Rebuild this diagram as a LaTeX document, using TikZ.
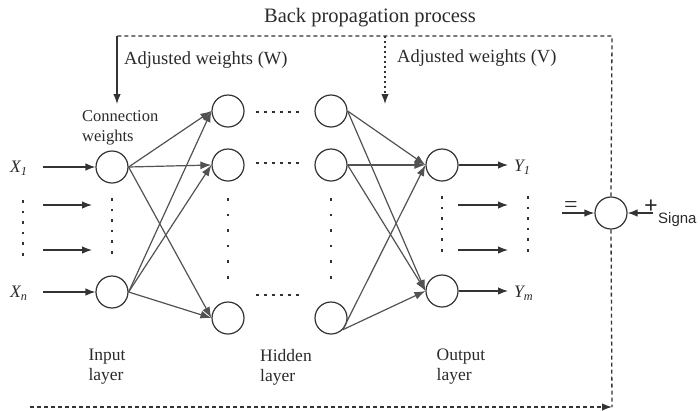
\documentclass[tikz,border=0pt]{standalone}
\usepackage{fontspec}
\setmainfont{Liberation Serif}
\newfontfamily\sigfont{Liberation Sans}
\usetikzlibrary{arrows.meta}
\definecolor{ln}{HTML}{333333}
\definecolor{tx}{HTML}{2A2A2A}
\begin{document}
\begin{tikzpicture}[x=1pt,y=-1pt,
  neuron/.style={circle,draw=ln,line width=1.2pt,minimum size=32pt,inner sep=0pt},
  conn/.style={draw=ln!85,line width=1.2pt,-{Latex[length=11pt,width=8pt]}},
  arr/.style={draw=ln,line width=1.2pt,-{Latex[length=10pt,width=7.5pt]}},
  dashline/.style={draw=ln,line width=1.3pt,dash pattern=on 4pt off 3pt},
  dotline/.style={draw=ln,line width=1.3pt,dash pattern=on 2pt off 3pt},
  vdots/.style={draw=ln,line width=2.6pt,dash pattern=on 2.6pt off 8pt},
  vdotsb/.style={draw=ln,line width=2.6pt,dash pattern=on 2.6pt off 13pt},
  hdots/.style={draw=ln,line width=2.6pt,dash pattern=on 3pt off 5pt},
  lab/.style={text=tx,font=\fontsize{17.5}{20}\selectfont,align=left,inner sep=0pt},
  every node/.append style={text=tx}]
\useasboundingbox (0,0) rectangle (700,410);

% neurons
\node[neuron] (i1) at (112,167) {};
\node[neuron] (in) at (112,292) {};
\node[neuron] (h1a) at (228,111) {};
\node[neuron] (h1b) at (228,165) {};
\node[neuron] (h1c) at (228,318) {};
\node[neuron] (h2a) at (331,111) {};
\node[neuron] (h2b) at (331,165) {};
\node[neuron] (h2c) at (331,318) {};
\node[neuron] (o1) at (442,165) {};
\node[neuron] (om) at (442,291) {};
\node[neuron] (cmp) at (611,213) {};

% texts
\node[lab,font=\fontsize{20.5}{22}\selectfont] (bp) at (370,18) {Back propagation process};
\node[lab,anchor=west,font=\fontsize{18.5}{20}\selectfont] (aw) at (124,60) {Adjusted weights (W)};
\node[lab,anchor=west,font=\fontsize{18.5}{20}\selectfont] (av) at (397,58) {Adjusted weights (V)};
\node[lab,anchor=west,font=\fontsize{16.5}{20}\selectfont] (cw) at (82,128) {Connection\\weights};
\node[lab] (il) at (107,367) {Input\\layer};
\node[lab] (hl) at (286,367) {Hidden\\layer};
\node[lab] (ol) at (461,367) {Output\\layer};
\node[lab,anchor=west] (x1) at (10,168) {\itshape X\textsubscript{1}};
\node[lab,anchor=west] (xn) at (10,293) {\itshape X\textsubscript{n}};
\node[lab,anchor=west] (y1) at (514,167) {\itshape Y\textsubscript{1}};
\node[lab,anchor=west] (ym) at (514,293) {\itshape Y\textsubscript{m}};
\node[lab,font=\fontsize{24}{24}\selectfont] (eq) at (571,207) {=};
\node[lab,font=\fontsize{24}{24}\selectfont\bfseries] (pl) at (651,207) {+};
\node[lab,anchor=west,font=\fontsize{15}{18}\sigfont] (sg) at (658,220) {Signa};

% back propagation loop
\coordinate (tl) at (117,36);
\coordinate (tv) at (385,36);
\coordinate (tr) at (612,36);
\coordinate (bl) at (30,407);
\coordinate (br) at (612,407);
\coordinate (cwtip) at (117,104);
\coordinate (avtip) at (385,104);
\draw[dashline] (cmp.north) -- (tr) -- (tl);
\draw[arr] (tl) -- (cwtip);
\draw[dotline,-{Latex[length=10pt,width=7.5pt]}] (tv) -- (avtip);
\draw[dashline] (cmp.south) -- (br);
\draw[dashline,-{Latex[length=10pt,width=7.5pt]}] (bl) -- (br);

% comparator inputs
\coordinate (cl) at (562,213);
\coordinate (cr) at (653,213);
\draw[arr] (cl) -- (cmp.west);
\draw[arr] (cr) -- (cmp.east);

% inputs
\coordinate (xa1) at (43,167);
\coordinate (xb1) at (43,205);
\coordinate (xb2) at (92,205);
\coordinate (xc1) at (43,250);
\coordinate (xc2) at (92,250);
\coordinate (xn1) at (43,292);
\draw[arr] (xa1) -- (i1.west);
\draw[arr] (xb1) -- (xb2);
\draw[arr] (xc1) -- (xc2);
\draw[arr] (xn1) -- (in.west);

% outputs
\coordinate (ya2) at (508,165);
\coordinate (yb1) at (458,205);
\coordinate (yb2) at (508,205);
\coordinate (yc1) at (458,250);
\coordinate (yc2) at (508,250);
\coordinate (ym2) at (508,291);
\draw[arr] (o1.east) -- (ya2);
\draw[arr] (yb1) -- (yb2);
\draw[arr] (yc1) -- (yc2);
\draw[arr] (om.east) -- (ym2);

% input -> hidden
\foreach \s in {i1,in}{
  \foreach \t in {h1a,h1b,h1c}{
    \draw[conn] (\s.east) -- (\t.west);
  }
}
% hidden -> output
\foreach \s/\a in {h2a/east,h2b/east,h2c/south east}{
  \foreach \t in {o1,om}{
    \draw[conn] (\s.\a) -- (\t.west);
  }
}

% dots
\coordinate (d1a) at (23,200); \coordinate (d1b) at (23,258);
\coordinate (d2a) at (112,198); \coordinate (d2b) at (112,258);
\coordinate (d3a) at (228,198); \coordinate (d3b) at (228,280);
\coordinate (d4a) at (331,198); \coordinate (d4b) at (331,280);
\coordinate (d5a) at (442,196); \coordinate (d5b) at (442,258);
\coordinate (d6a) at (528,196); \coordinate (d6b) at (528,258);
\draw[vdots] (d1a) -- (d1b);
\draw[vdots] (d2a) -- (d2b);
\draw[vdotsb] (d3a) -- (d3b);
\draw[vdotsb] (d4a) -- (d4b);
\draw[vdots] (d5a) -- (d5b);
\draw[vdots] (d6a) -- (d6b);
\coordinate (e1a) at (256,112); \coordinate (e1b) at (302,112);
\coordinate (e2a) at (256,163); \coordinate (e2b) at (302,163);
\coordinate (e3a) at (256,295); \coordinate (e3b) at (302,295);
\draw[hdots] (e1a) -- (e1b);
\draw[hdots] (e2a) -- (e2b);
\draw[hdots] (e3a) -- (e3b);
\end{tikzpicture}
\end{document}
